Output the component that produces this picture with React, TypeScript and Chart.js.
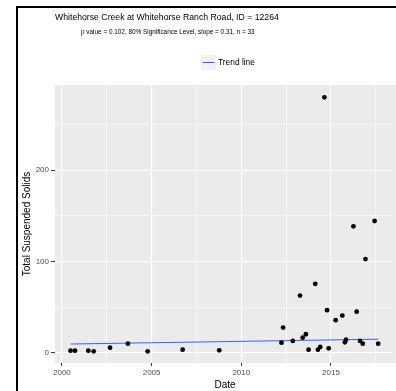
import React, { useEffect, useRef } from "react";
import { Chart, registerables } from "chart.js";

Chart.register(...registerables);

const titleText = "Whitehorse Creek at Whitehorse Ranch Road, ID = 12264";
const subtitleText = "p value = 0.102, 80% Significance Level, slope = 0.31, n = 33";
const legendLabel = "Trend line";
const xTitle = "Date";
const yTitle = "Total Suspended Solids";

const sampleYears = [
  2000.48, 2000.73, 2001.47, 2001.77, 2002.68, 2003.68, 2004.78, 2006.73, 2008.77,
  2012.24, 2012.33, 2012.87, 2013.27, 2013.42, 2013.6, 2013.75, 2014.12, 2014.27,
  2014.4, 2014.63, 2014.78, 2014.87, 2015.26, 2015.63, 2015.77, 2015.84, 2016.25,
  2016.43, 2016.62, 2016.77, 2016.92, 2017.43, 2017.63,
];
const tssValues = [
  2.2, 2.2, 2.2, 1.5, 5.5, 9.9, 1.5, 3.3, 2.6,
  11, 27.5, 12.9, 62.6, 16.5, 20.2, 3.3, 75.5, 3.3,
  6.3, 280, 46.6, 4.8, 35.6, 40.7, 11.4, 14.3, 138.5,
  45, 12.9, 9.9, 102.6, 144.4, 9.9,
];
const trendYears = [2000.48, 2017.63];
const trendValues = [9.5, 14.8];

const xTickValues = [2000, 2002.5, 2005, 2007.5, 2010, 2012.5, 2015, 2017.5];
const xTickLabels = ["2000", "", "2005", "", "2010", "", "2015", ""];
const yTickValues = [0, 50, 100, 150, 200, 250];
const yTickLabels = ["0", "", "100", "", "200", ""];

const FONT = "'Liberation Sans', Arial, sans-serif";

export default function App() {
  const ref = useRef<HTMLCanvasElement | null>(null);

  useEffect(() => {
    if (!ref.current) return;
    const decor = {
      id: "decor",
      beforeDraw(chart: any) {
        const { ctx, chartArea } = chart;
        ctx.save();
        ctx.fillStyle = "#ffffff";
        ctx.fillRect(0, 0, chart.width, chart.height);
        ctx.fillStyle = "#EBEBEB";
        ctx.fillRect(chartArea.left, chartArea.top, chart.width - chartArea.left, chartArea.bottom - chartArea.top);
        ctx.restore();
      },
      afterDraw(chart: any) {
        const { ctx, chartArea } = chart;
        ctx.save();
        // outer border
        ctx.fillStyle = "#000";
        ctx.fillRect(16, 6, chart.width - 16, 2);
        ctx.fillRect(16, 6, 2, chart.height - 6);
        // title
        ctx.fillStyle = "#000";
        ctx.textAlign = "left";
        ctx.textBaseline = "alphabetic";
        ctx.font = `8.7px ${FONT}`;
        ctx.fillText(titleText, 55, 20);
        ctx.font = `6.4px ${FONT}`;
        ctx.fillText(subtitleText, 81, 34);
        // legend
        ctx.fillStyle = "#F2F2F2";
        ctx.fillRect(201, 55, 15, 15);
        ctx.strokeStyle = "#3366FF";
        ctx.lineWidth = 1;
        ctx.beginPath();
        ctx.moveTo(202.5, 62.5);
        ctx.lineTo(214.5, 62.5);
        ctx.stroke();
        ctx.fillStyle = "#000";
        ctx.font = `8.4px ${FONT}`;
        ctx.textBaseline = "middle";
        ctx.fillText(legendLabel, 218, 62.5);
        // axis titles
        ctx.font = `10px ${FONT}`;
        ctx.textAlign = "center";
        ctx.fillText(xTitle, 225, 385);
        ctx.translate(27, (chartArea.top + chartArea.bottom) / 2);
        ctx.rotate(-Math.PI / 2);
        ctx.fillText(yTitle, 0, 0);
        ctx.restore();
      },
    };

    const chart = new Chart(ref.current, {
      type: "scatter",
      data: {
        datasets: [
          {
            type: "scatter",
            label: "TSS",
            data: sampleYears.map((x, i) => ({ x, y: tssValues[i] })),
            backgroundColor: "#000",
            borderColor: "#000",
            pointRadius: 2.4,
            borderWidth: 0,
          },
          {
            type: "line",
            label: legendLabel,
            data: trendYears.map((x, i) => ({ x, y: trendValues[i] })),
            borderColor: "#3366FF",
            borderWidth: 1,
            pointRadius: 0,
            fill: false,
          } as any,
        ],
      },
      options: {
        animation: false,
        responsive: false,
        devicePixelRatio: 1,
        layout: { padding: { left: 0, right: 0, top: 85, bottom: 0 } },
        plugins: { legend: { display: false }, tooltip: { enabled: false } },
        scales: {
          x: {
            type: "linear",
            min: 1999.614,
            max: 2018.4,
            afterFit(scale: any) {
              scale.height = 28;
              scale.paddingLeft = 0;
              scale.paddingRight = 0;
            },
            afterBuildTicks(scale: any) {
              scale.ticks = xTickValues.map((v) => ({ value: v }));
            },
            border: { display: false },
            grid: {
              color: "#ffffff",
              lineWidth: (c: any) => (c.tick && c.tick.value % 5 === 0 ? 1.1 : 0.55),
              tickColor: (c: any) => (c.tick && c.tick.value % 5 === 0 ? "#333333" : "rgba(0,0,0,0)"),
              tickLength: 3,
              tickWidth: 1,
            },
            ticks: {
              autoSkip: false,
              maxRotation: 0,
              padding: 2,
              color: "#4D4D4D",
              font: { family: FONT, size: 8 },
              callback: (v: any) => {
                const i = xTickValues.indexOf(Number(v));
                return i >= 0 ? xTickLabels[i] : "";
              },
            },
          },
          y: {
            type: "linear",
            min: -11.3,
            max: 293.5,
            afterFit(scale: any) {
              scale.width = 55;
              scale.paddingTop = 0;
              scale.paddingBottom = 0;
            },
            afterBuildTicks(scale: any) {
              scale.ticks = yTickValues.map((v) => ({ value: v }));
            },
            border: { display: false },
            grid: {
              color: "#ffffff",
              lineWidth: (c: any) => (c.tick && c.tick.value % 100 === 0 ? 1.1 : 0.55),
              tickColor: (c: any) => (c.tick && c.tick.value % 100 === 0 ? "#333333" : "rgba(0,0,0,0)"),
              tickLength: 4,
              tickWidth: 1,
            },
            ticks: {
              autoSkip: false,
              padding: 2,
              color: "#4D4D4D",
              font: { family: FONT, size: 8 },
              callback: (v: any) => {
                const i = yTickValues.indexOf(Number(v));
                return i >= 0 ? yTickLabels[i] : "";
              },
            },
          },
        },
      },
      plugins: [decor],
    });
    return () => chart.destroy();
  }, []);

  return (
    <div style={{ position: "absolute", left: 0, top: 0, width: 396, height: 391, overflow: "hidden" }}>
      <canvas ref={ref} width={396} height={391} style={{ display: "block" }} />
    </div>
  );
}
